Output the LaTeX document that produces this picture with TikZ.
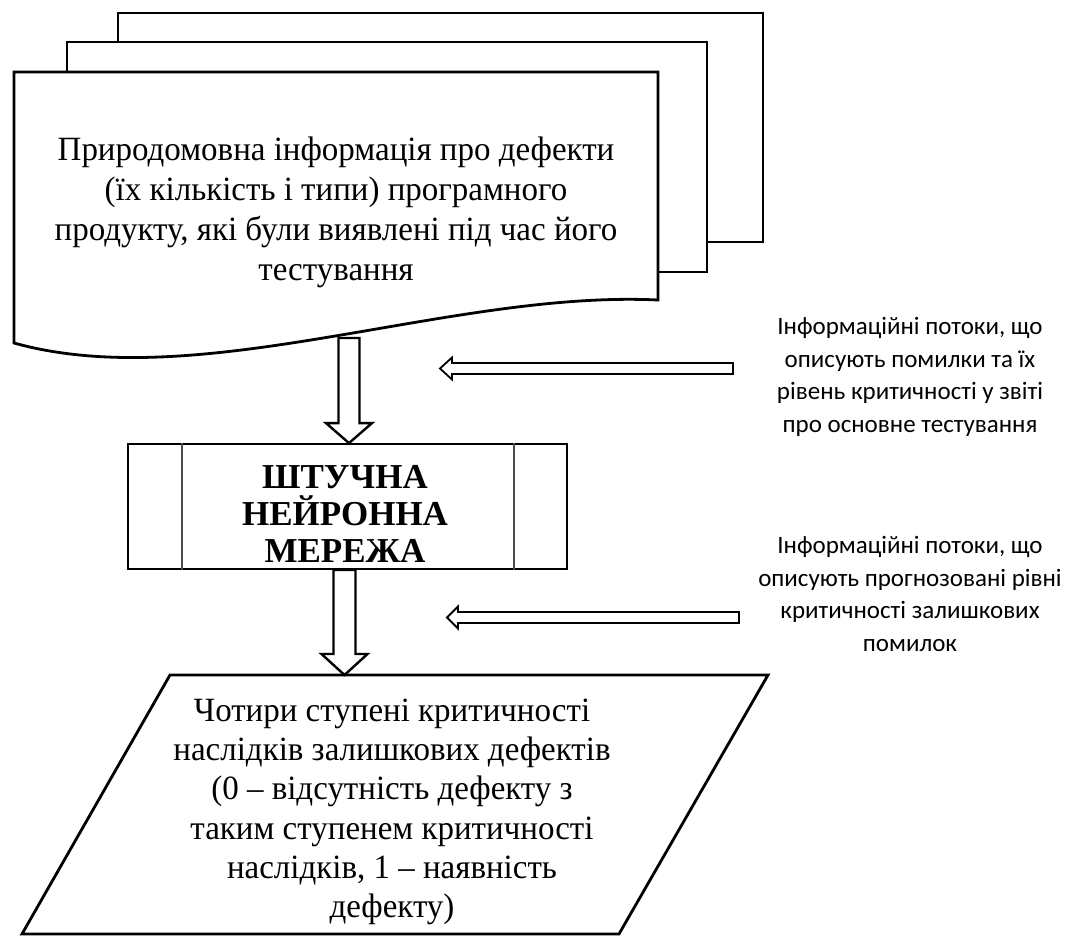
\documentclass[tikz,border=0pt]{standalone}
\usepackage{fontspec}
\setmainfont{Liberation Serif}
\newfontfamily\bodyserif[FakeStretch=0.97,Ligatures=TeX]{Liberation Serif}
\newfontfamily\notefont{Carlito}
\usetikzlibrary{calc}

% block arrow: start, tip, shaft half width, head half width, head length
\newcommand\flowarrow[6][]{%
  \coordinate (fa-h) at ($(#3)!#6!(#2)$);
  \draw[arrowline,#1] ($(#2)!#4!90:(#3)$) -- ($(fa-h)!#4!90:(#3)$)
    -- ($(fa-h)!#5!90:(#3)$) -- (#3) -- ($(fa-h)!#5!-90:(#3)$)
    -- ($(fa-h)!#4!-90:(#3)$) -- ($(#2)!#4!-90:(#3)$) -- cycle;}

\tikzset{
  sheet/.style={draw, fill=white, line width=2.8pt, line join=miter},
  arrowline/.style={draw, fill=white, line width=2.4pt, line join=miter},
  thinarrow/.style={line width=1.8pt},
  serifbody/.style={align=center, font=\bodyserif\fontsize{34}{40}\selectfont},
  notetext/.style={align=center, font=\notefont\fontsize{25}{32.5}\selectfont},
}

\begin{document}
\begin{tikzpicture}[x=1pt, y=-1pt]
\useasboundingbox (0,0) rectangle (1071,936);

% stacked documents
\path[sheet] (118,13) rectangle (763,242);
\path[sheet] (67,42) rectangle (707,272);
\path[sheet] (14,72) -- (658,72) -- (658,300)
  .. controls (450,290) and (200,395) .. (14,343) -- cycle;
\node[serifbody] (src) at (336,212)
  {Природомовна інформація про дефекти\\(їх кількість і типи) програмного\\продукту, які були виявлені під час його\\тестування};

% neural network block
\node[draw, line width=1.8pt, minimum width=439pt, minimum height=125pt,
      inner sep=0pt] (ann) at (347.5,506.5) {};
\draw[line width=1.3pt, black!70] ($(ann.north west)+(55,0)$) -- ($(ann.south west)+(55,0)$);
\draw[line width=1.3pt, black!70] ($(ann.north east)+(-54,0)$) -- ($(ann.south east)+(-54,0)$);
\node[align=center, font=\bfseries\fontsize{35}{37}\selectfont] (anntext) at (345,514)
  {ШТУЧНА\\НЕЙРОННА\\МЕРЕЖА};

% output data (parallelogram)
\draw[sheet] (170,675) -- (768,675) -- (619,934) -- (22,934) -- cycle;
\node[serifbody, font=\bodyserif\fontsize{34}{39.2}\selectfont] (res) at (392,812)
  {Чотири ступені критичності\\наслідків залишкових дефектів\\(0 – відсутність дефекту з\\таким ступенем критичності\\наслідків, 1 – наявність\\дефекту)};

% flow arrows
\coordinate (wavept) at (349,338);
\coordinate (restop) at (344.5,675);
\flowarrow{wavept}{ann.north -| wavept}{10.5pt}{23pt}{20pt}
\flowarrow{ann.south -| restop}{restop}{11pt}{23pt}{21pt}

% information flows
\coordinate (in1s) at (733,368.5);
\coordinate (in1t) at (440,368.5);
\coordinate (in2s) at (739,617.5);
\coordinate (in2t) at (447,617.5);
\flowarrow[thinarrow]{in1s}{in1t}{5.5pt}{11pt}{12pt}
\flowarrow[thinarrow]{in2s}{in2t}{5.5pt}{11pt}{11pt}

\node[notetext] (note1) at (910,377)
  {Інформаційні потоки, що\\описують помилки та їх\\рівень критичності у звіті\\про основне тестування};
\node[notetext] (note2) at (910,594)
  {Інформаційні потоки, що\\описують прогнозовані рівні\\критичності залишкових\\помилок};
\end{tikzpicture}
\end{document}
